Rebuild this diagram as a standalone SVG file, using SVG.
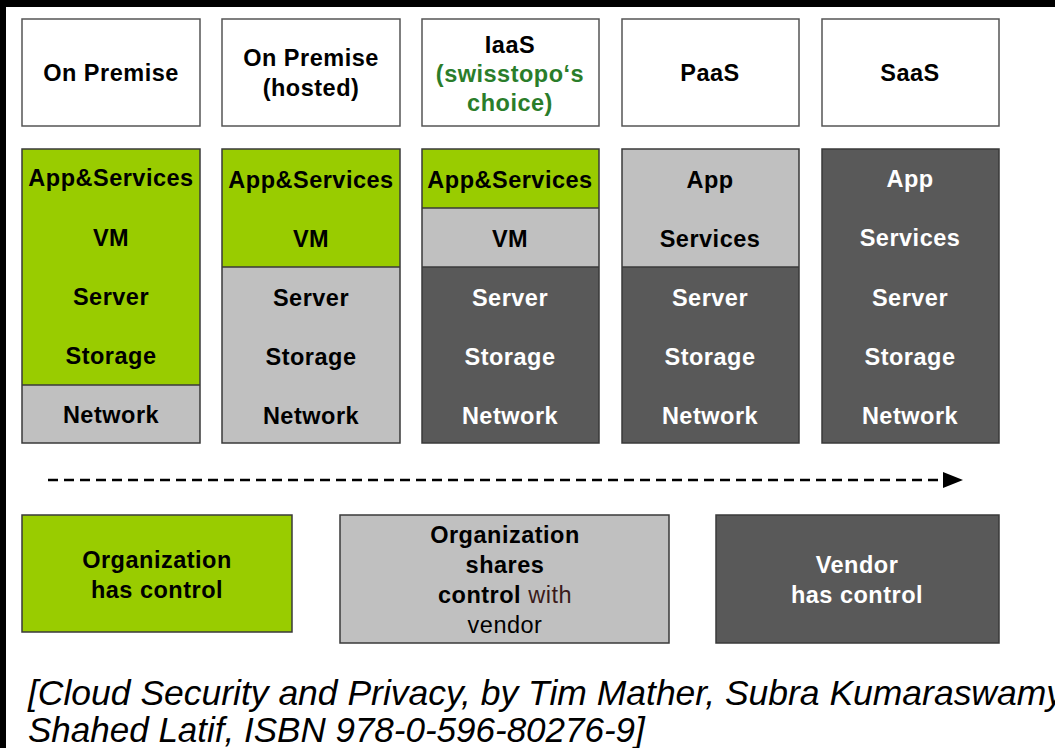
<svg xmlns="http://www.w3.org/2000/svg" width="1055" height="748" viewBox="0 0 1055 748">
<style>
.t{font-family:"Liberation Sans",Arial,sans-serif;font-weight:bold;font-size:23.5px;letter-spacing:0.5px;text-anchor:middle}
.k{fill:#000}
.w{fill:#fff}
.gt{fill:#2a7d2a}
.g{fill:#99cc00}
.l{fill:#c0c0c0}
.d{fill:#595959}
.hd{fill:#fff;stroke:#555;stroke-width:1.5}
.o{fill:none;stroke:#3a3a3a;stroke-width:1.5}
.sep{stroke:#3a3a3a;stroke-width:1.5}
.cap{font-family:"Liberation Sans",Arial,sans-serif;font-style:italic;font-size:35px;fill:#000}
.n{font-weight:normal}
</style>
<defs>
<marker id="ah" markerWidth="20" markerHeight="16" refX="0" refY="8" orient="auto" markerUnits="userSpaceOnUse">
<polygon points="0,0 20,8 0,16" fill="#000"/>
</marker>
</defs>
<rect x="0" y="0" width="1055" height="748" fill="#fff"/>
<rect x="0" y="0" width="1055" height="7" fill="#000"/>
<rect x="0" y="0" width="6" height="748" fill="#000"/>

<g id="h1"><rect class="hd" x="22" y="19" width="178" height="107"/><text class="t k" x="111" y="81">On Premise</text></g>
<g id="h2"><rect class="hd" x="222" y="19" width="178" height="107"/><text class="t k" x="311" y="66">On Premise</text><text class="t k" x="311" y="96">(hosted)</text></g>
<g id="h3"><rect class="hd" x="422" y="19" width="177" height="107"/><text class="t k" x="510" y="53">IaaS</text><text class="t gt" x="510" y="82">(swisstopo‘s</text><text class="t gt" x="510" y="111">choice)</text></g>
<g id="h4"><rect class="hd" x="622" y="19" width="177" height="107"/><text class="t k" x="710" y="81">PaaS</text></g>
<g id="h5"><rect class="hd" x="822" y="19" width="177" height="107"/><text class="t k" x="910" y="81">SaaS</text></g>

<g id="s1">
<rect class="g" x="22" y="149" width="178" height="236"/>
<rect class="l" x="22" y="385" width="178" height="58"/>
<line class="sep" x1="22" y1="385" x2="200" y2="385"/>
<rect class="o" x="22" y="149" width="178" height="294"/>
<text class="t k" x="111" y="186">App&amp;Services</text>
<text class="t k" x="111" y="246">VM</text>
<text class="t k" x="111" y="305">Server</text>
<text class="t k" x="111" y="364">Storage</text>
<text class="t k" x="111" y="423">Network</text>
</g>
<g id="s2">
<rect class="g" x="222" y="149" width="178" height="118"/>
<rect class="l" x="222" y="267" width="178" height="176"/>
<line class="sep" x1="222" y1="267" x2="400" y2="267"/>
<rect class="o" x="222" y="149" width="178" height="294"/>
<text class="t k" x="311" y="188">App&amp;Services</text>
<text class="t k" x="311" y="247">VM</text>
<text class="t k" x="311" y="306">Server</text>
<text class="t k" x="311" y="365">Storage</text>
<text class="t k" x="311" y="424">Network</text>
</g>
<g id="s3">
<rect class="g" x="422" y="149" width="177" height="59"/>
<rect class="l" x="422" y="208" width="177" height="59"/>
<rect class="d" x="422" y="267" width="177" height="176"/>
<line class="sep" x1="422" y1="208" x2="599" y2="208"/>
<line class="sep" x1="422" y1="267" x2="599" y2="267"/>
<rect class="o" x="422" y="149" width="177" height="294"/>
<text class="t k" x="510" y="188">App&amp;Services</text>
<text class="t k" x="510" y="247">VM</text>
<text class="t w" x="510" y="306">Server</text>
<text class="t w" x="510" y="365">Storage</text>
<text class="t w" x="510" y="424">Network</text>
</g>
<g id="s4">
<rect class="l" x="622" y="149" width="177" height="118"/>
<rect class="d" x="622" y="267" width="177" height="176"/>
<line class="sep" x1="622" y1="267" x2="799" y2="267"/>
<rect class="o" x="622" y="149" width="177" height="294"/>
<text class="t k" x="710" y="188">App</text>
<text class="t k" x="710" y="247">Services</text>
<text class="t w" x="710" y="306">Server</text>
<text class="t w" x="710" y="365">Storage</text>
<text class="t w" x="710" y="424">Network</text>
</g>
<g id="s5">
<rect class="d" x="822" y="149" width="177" height="294"/>
<rect class="o" x="822" y="149" width="177" height="294"/>
<text class="t w" x="910" y="187">App</text>
<text class="t w" x="910" y="246">Services</text>
<text class="t w" x="910" y="306">Server</text>
<text class="t w" x="910" y="365">Storage</text>
<text class="t w" x="910" y="424">Network</text>
</g>

<g id="connectors">
<line x1="48" y1="480" x2="943" y2="480" stroke="#000" stroke-width="2.5" stroke-dasharray="10 6" marker-end="url(#ah)"/>
</g>

<g id="b1">
<rect class="g" x="22" y="515" width="270" height="117" stroke="#3a3a3a" stroke-width="1.5"/>
<text class="t k" x="157" y="568">Organization</text>
<text class="t k" x="157" y="598">has control</text>
</g>
<g id="b2">
<rect class="l" x="340" y="515" width="329" height="128" stroke="#3a3a3a" stroke-width="1.5"/>
<text class="t k" x="505" y="543">Organization</text>
<text class="t k" x="505" y="573">shares</text>
<text class="t k" x="505" y="603">control<tspan class="n" fill="#3a1a1a"> with</tspan></text>
<text class="t k n" x="505" y="633" fill="#3a1a1a">vendor</text>
</g>
<g id="b3">
<rect class="d" x="716" y="515" width="283" height="128" stroke="#3a3a3a" stroke-width="1.5"/>
<text class="t w" x="857" y="573">Vendor</text>
<text class="t w" x="857" y="603">has control</text>
</g>

<g id="caption">
<text class="cap" x="28" y="705" textLength="1036" lengthAdjust="spacingAndGlyphs">[Cloud Security and Privacy, by Tim Mather, Subra Kumaraswamy</text>
<text class="cap" x="28" y="742">Shahed Latif, ISBN 978-0-596-80276-9]</text>
</g>
</svg>
